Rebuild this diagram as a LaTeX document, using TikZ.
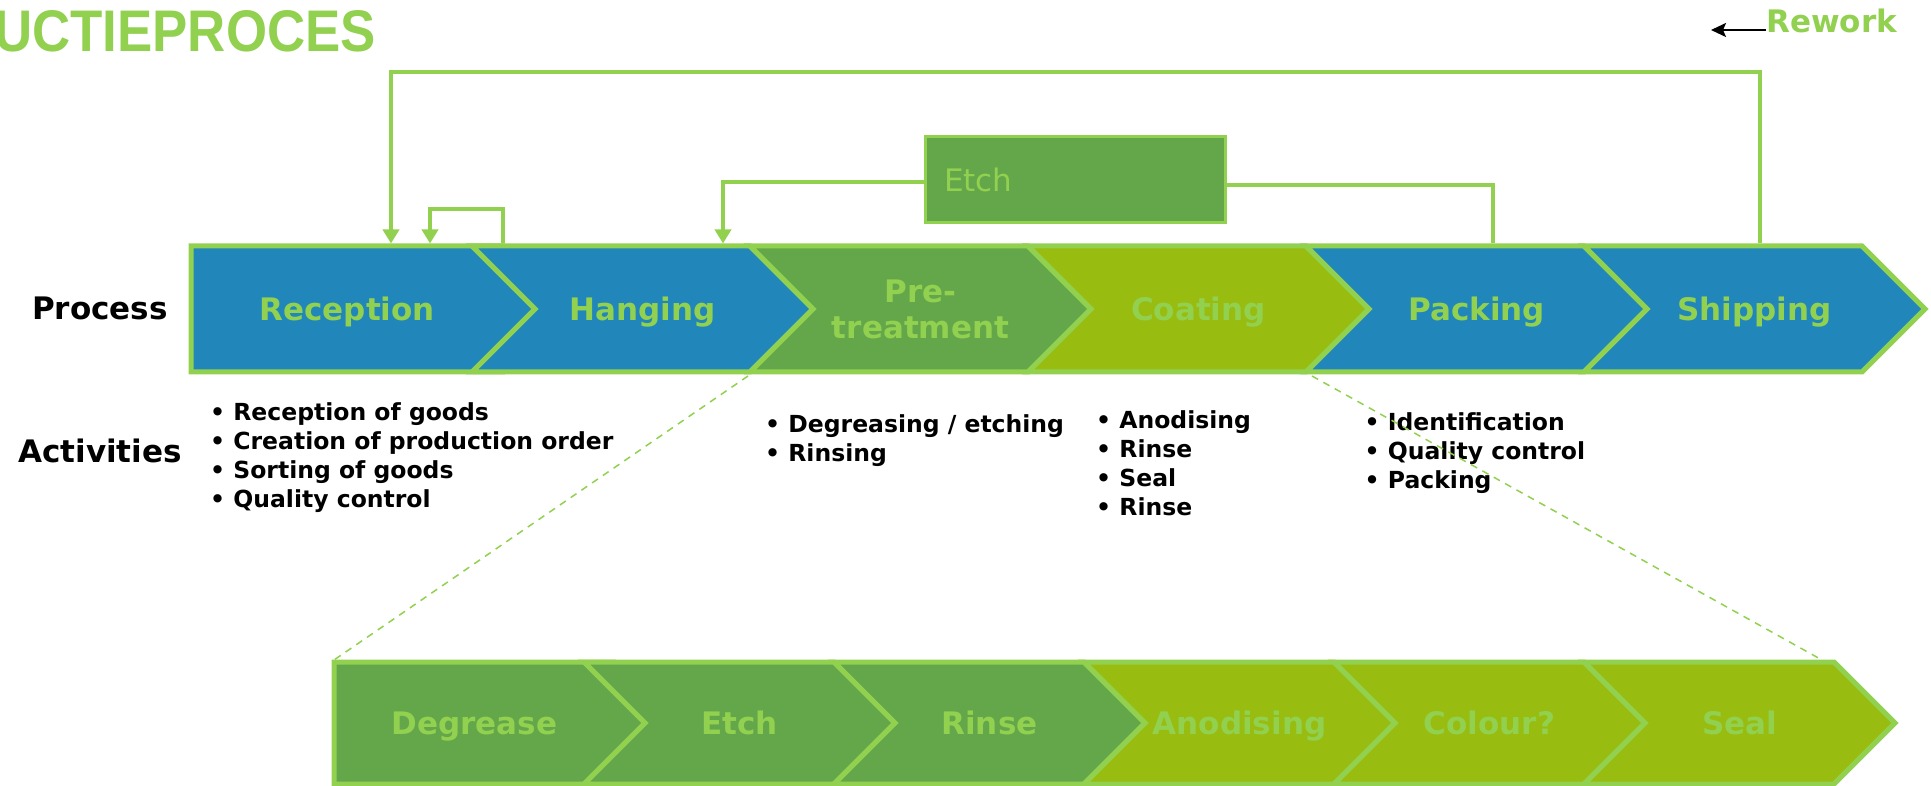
\documentclass[tikz,border=0pt]{standalone}
\usepackage{fontspec}
\setmainfont{DejaVu Sans}
\newfontfamily\titlefont{Liberation Sans}
\usetikzlibrary{shapes.symbols,arrows.meta}

\definecolor{lgreen}{HTML}{92D050}
\definecolor{pblue}{HTML}{2187BA}
\definecolor{mgreen}{HTML}{64A74B}
\definecolor{ygreen}{HTML}{98BD10}

\tikzset{
  stage/.style={signal, signal to=east, signal pointer angle=90, draw=lgreen, line width=5pt,
    inner sep=0pt, text=lgreen, align=center, font=\fontsize{31}{36}\selectfont\bfseries,
    text height=22.6pt, text depth=0pt},
  bigstage/.style={stage, minimum height=126pt, minimum width=341pt},
  substage/.style={stage, minimum height=122pt, minimum width=311pt},
  startstage/.style={signal from=nowhere},
  nextstage/.style={signal from=west},
  loopline/.style={draw=lgreen, line width=4.5pt},
  looparrow/.style={loopline, -{Triangle[width=16pt,length=14pt]}},
  rowlabel/.style={inner sep=0pt, font=\fontsize{31}{36}\selectfont\bfseries},
  activity/.style={anchor=north west, align=left, inner sep=0pt, font=\fontsize{23.5}{29}\selectfont\bfseries},
  zoomline/.style={lgreen, line width=1.5pt, dash pattern=on 7pt off 6pt},
}

\begin{document}
\begin{tikzpicture}[x=1pt,y=-1pt]
	\clip (0,0) rectangle (1931,786);
	
	% title and legend
	\node[anchor=west,inner sep=0pt,text=lgreen,font=\titlefont\bfseries\fontsize{58.7}{60}\selectfont] (title) at(-6,31) {\scalebox{0.9}[1]{UCTIEPROCES}};
	\node[anchor=west,inner sep=0pt,text=lgreen,font=\fontsize{31}{36}\selectfont\bfseries] (rework) at(1766,21) {Rework};
	\coordinate (reworktip) at(1711,30);
	\draw[black,line width=2pt,-{Stealth[width=14pt,length=15pt,inset=3pt]}] (rework.west |- reworktip) -- (reworktip);
	
	% process row
	\node[bigstage,startstage,minimum width=375.5pt,fill=pblue] (reception) at(347.25,309) {Reception};
	\node[bigstage,nextstage,fill=pblue] (hanging) at(642.5,309) {Hanging};
	\node[bigstage,nextstage,fill=mgreen,text height={},text depth={}] (pretreat) at(920.5,309) {Pre-\\treatment};
	\node[bigstage,nextstage,fill=ygreen] (coating) at(1198.5,309) {Coating};
	\node[bigstage,nextstage,fill=pblue] (packing) at(1476.5,309) {Packing};
	\node[bigstage,nextstage,fill=pblue] (shipping) at(1754.5,309) {Shipping};
	
	% row labels
	\node[rowlabel] (process) at(100,308) {Process};
	\node[rowlabel] (activities) at(100,451) {Activities};
	
	% activities per stage
	\node[activity] (actreception) at(210,402) {\textbullet\ Reception of goods\\\textbullet\ Creation of production order\\\textbullet\ Sorting of goods\\\textbullet\ Quality control};
	\node[activity] (actpretreat) at(765,414) {\textbullet\ Degreasing / etching\\\textbullet\ Rinsing};
	\node[activity] (actcoating) at(1096,410) {\textbullet\ Anodising\\\textbullet\ Rinse\\\textbullet\ Seal\\\textbullet\ Rinse};
	\node[activity] (actpacking) at(1364.5,412) {\textbullet\ Identification\\\textbullet\ Quality control\\\textbullet\ Packing};
	
	% sub process row
	\node[substage,startstage,minimum width=341.5pt,fill=mgreen] (degrease) at(474.25,723) {Degrease};
	\node[substage,nextstage,fill=mgreen] (etchstep) at(739.5,723) {Etch};
	\node[substage,nextstage,fill=mgreen] (rinse) at(989.5,723) {Rinse};
	\node[substage,nextstage,fill=ygreen] (anodising) at(1239.5,723) {Anodising};
	\node[substage,nextstage,fill=ygreen] (colour) at(1489.5,723) {Colour?};
	\node[substage,nextstage,fill=ygreen] (seal) at(1739.5,723) {Seal};
	
	% zoom lines
	\coordinate (zoomLtop) at(748,376);
	\coordinate (zoomLbot) at(334,660);
	\coordinate (zoomRtop) at(1312,376);
	\coordinate (zoomRbot) at(1822,660);
	\draw[zoomline] (zoomLtop) -- (zoomLbot);
	\draw[zoomline] (zoomRtop) -- (zoomRbot);
	
	% etch box
	\node[draw=lgreen,line width=3pt,fill=mgreen,minimum height=86pt,text width=262pt,inner xsep=19pt,align=left,text=lgreen,font=\fontsize{31}{36}\selectfont] (etch) at(1075,180) {Etch};
	
	% rework loops
	\coordinate (outerL) at(391,72);
	\coordinate (outerR) at(1760,72);
	\draw[looparrow] (shipping.north -| outerR) -- (outerR) -- (outerL) -- (reception.north -| outerL);
	
	\coordinate (innerL) at(430,209);
	\coordinate (innerR) at(503,209);
	\draw[looparrow] (hanging.north -| innerR) -- (innerR) -- (innerL) -- (reception.north -| innerL);
	
	\coordinate (etchL) at(723,182);
	\coordinate (etchR) at(1493,185);
	\draw[looparrow] (etch.west |- etchL) -| (hanging.north -| etchL);
	\draw[loopline] (packing.north -| etchR) |- (etch.east |- etchR);
	
\end{tikzpicture}
\end{document}
